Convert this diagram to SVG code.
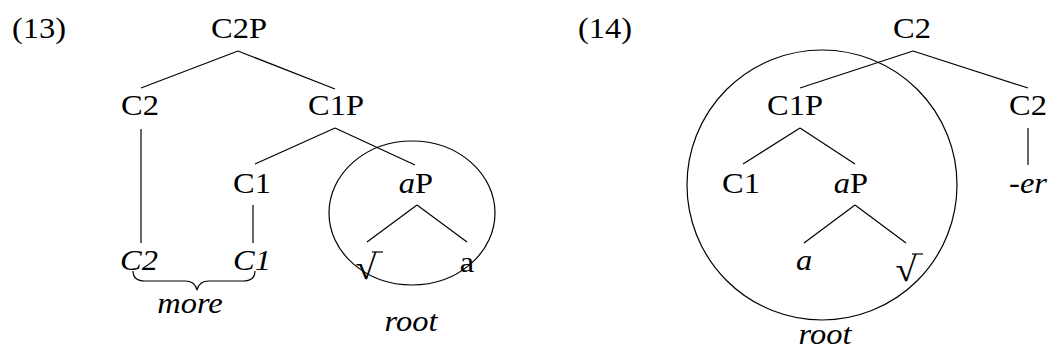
<svg xmlns="http://www.w3.org/2000/svg" width="1048" height="350" viewBox="0 0 1048 350">
  <style>
    text { font-size: 29px; fill: #000; text-anchor: middle; }
    .s { text-anchor: start; }
    .i { font-style: italic; }
    .e { fill: none; stroke: #000; stroke-width: 1.2; }
    .rt { font-size: 34px; }
  </style>
  <rect width="1048" height="350" fill="#fff"/>

  <!-- tree (13) connectors -->
  <g id="edges-13" class="e">
    <line x1="238" y1="51" x2="141" y2="88"/>
    <line x1="238" y1="51" x2="335" y2="89"/>
    <line x1="141" y1="129" x2="141" y2="243"/>
    <line x1="335" y1="128" x2="255" y2="164"/>
    <line x1="335" y1="128" x2="415" y2="165"/>
    <line x1="253" y1="205" x2="253" y2="243"/>
    <line x1="417" y1="205" x2="367" y2="242"/>
    <line x1="417" y1="205" x2="467" y2="242"/>
    <path d="M133,271 Q133,281 145,281 L185,281 Q195,281 197,290 Q199,281 209,281 L243,281 Q255,281 255,271"/>
    <ellipse cx="412" cy="213" rx="83" ry="72"/>
  </g>

  <!-- tree (14) connectors -->
  <g id="edges-14" class="e">
    <line x1="913" y1="51" x2="800" y2="88"/>
    <line x1="913" y1="51" x2="1028" y2="88"/>
    <line x1="1028" y1="128" x2="1028" y2="165"/>
    <line x1="800" y1="128" x2="743" y2="164"/>
    <line x1="800" y1="128" x2="855" y2="164"/>
    <line x1="855" y1="205" x2="804" y2="243"/>
    <line x1="855" y1="205" x2="906" y2="243"/>
    <ellipse cx="822" cy="185" rx="135" ry="135"/>
  </g>

  <!-- example labels -->
  <g id="label-13"><text class="s" font-family="Liberation Serif" transform="translate(12 38) scale(1.12 1)">(13)</text></g>
  <g id="label-14"><text class="s" font-family="Liberation Serif" transform="translate(578 38) scale(1.12 1)">(14)</text></g>

  <!-- tree (13) nodes -->
  <g id="n13-C2P"><text font-family="Liberation Serif" transform="translate(239 38) scale(1.12 1)">C2P</text></g>
  <g id="n13-C2"><text font-family="Liberation Serif" transform="translate(140 115) scale(1.12 1)">C2</text></g>
  <g id="n13-C1P"><text font-family="Liberation Serif" transform="translate(336 115) scale(1.12 1)">C1P</text></g>
  <g id="n13-C1"><text font-family="Liberation Serif" transform="translate(252 193) scale(1.12 1)">C1</text></g>
  <g id="n13-aP"><text font-family="Liberation Serif" transform="translate(416 193) scale(1.12 1)"><tspan class="i">a</tspan>P</text></g>
  <g id="n13-C2-exp"><text class="i" font-family="Liberation Serif" transform="translate(139 270) scale(1.12 1)">C2</text></g>
  <g id="n13-C1-exp"><text class="i" font-family="Liberation Serif" transform="translate(252 270) scale(1.12 1)">C1</text></g>
  <g id="n13-root-sym"><text class="rt" font-family="Liberation Serif" transform="translate(366 279) scale(1.12 1)">√</text><line class="e" x1="372" y1="252" x2="383" y2="252"/></g>
  <g id="n13-a"><text font-family="Liberation Serif" transform="translate(467 272) scale(1.12 1)">a</text></g>
  <g id="n13-more"><text class="i" font-family="Liberation Serif" transform="translate(190 313) scale(1.12 1)">more</text></g>
  <g id="n13-root"><text class="i" font-family="Liberation Serif" transform="translate(411 331) scale(1.12 1)">root</text></g>

  <!-- tree (14) nodes -->
  <g id="n14-C2"><text font-family="Liberation Serif" transform="translate(912 38) scale(1.12 1)">C2</text></g>
  <g id="n14-C1P"><text font-family="Liberation Serif" transform="translate(795 115) scale(1.12 1)">C1P</text></g>
  <g id="n14-C2b"><text font-family="Liberation Serif" transform="translate(1028 115) scale(1.12 1)">C2</text></g>
  <g id="n14-er"><text class="i" font-family="Liberation Serif" transform="translate(1028 193) scale(1.12 1)">-er</text></g>
  <g id="n14-C1"><text font-family="Liberation Serif" transform="translate(741 193) scale(1.12 1)">C1</text></g>
  <g id="n14-aP"><text font-family="Liberation Serif" transform="translate(851 193) scale(1.12 1)"><tspan class="i">a</tspan>P</text></g>
  <g id="n14-a"><text class="i" font-family="Liberation Serif" transform="translate(804 270) scale(1.12 1)">a</text></g>
  <g id="n14-root-sym"><text class="rt" font-family="Liberation Serif" transform="translate(906 281) scale(1.12 1)">√</text><line class="e" x1="912" y1="254" x2="923" y2="254"/></g>
  <g id="n14-root"><text class="i" font-family="Liberation Serif" transform="translate(825 344) scale(1.12 1)">root</text></g>
</svg>
